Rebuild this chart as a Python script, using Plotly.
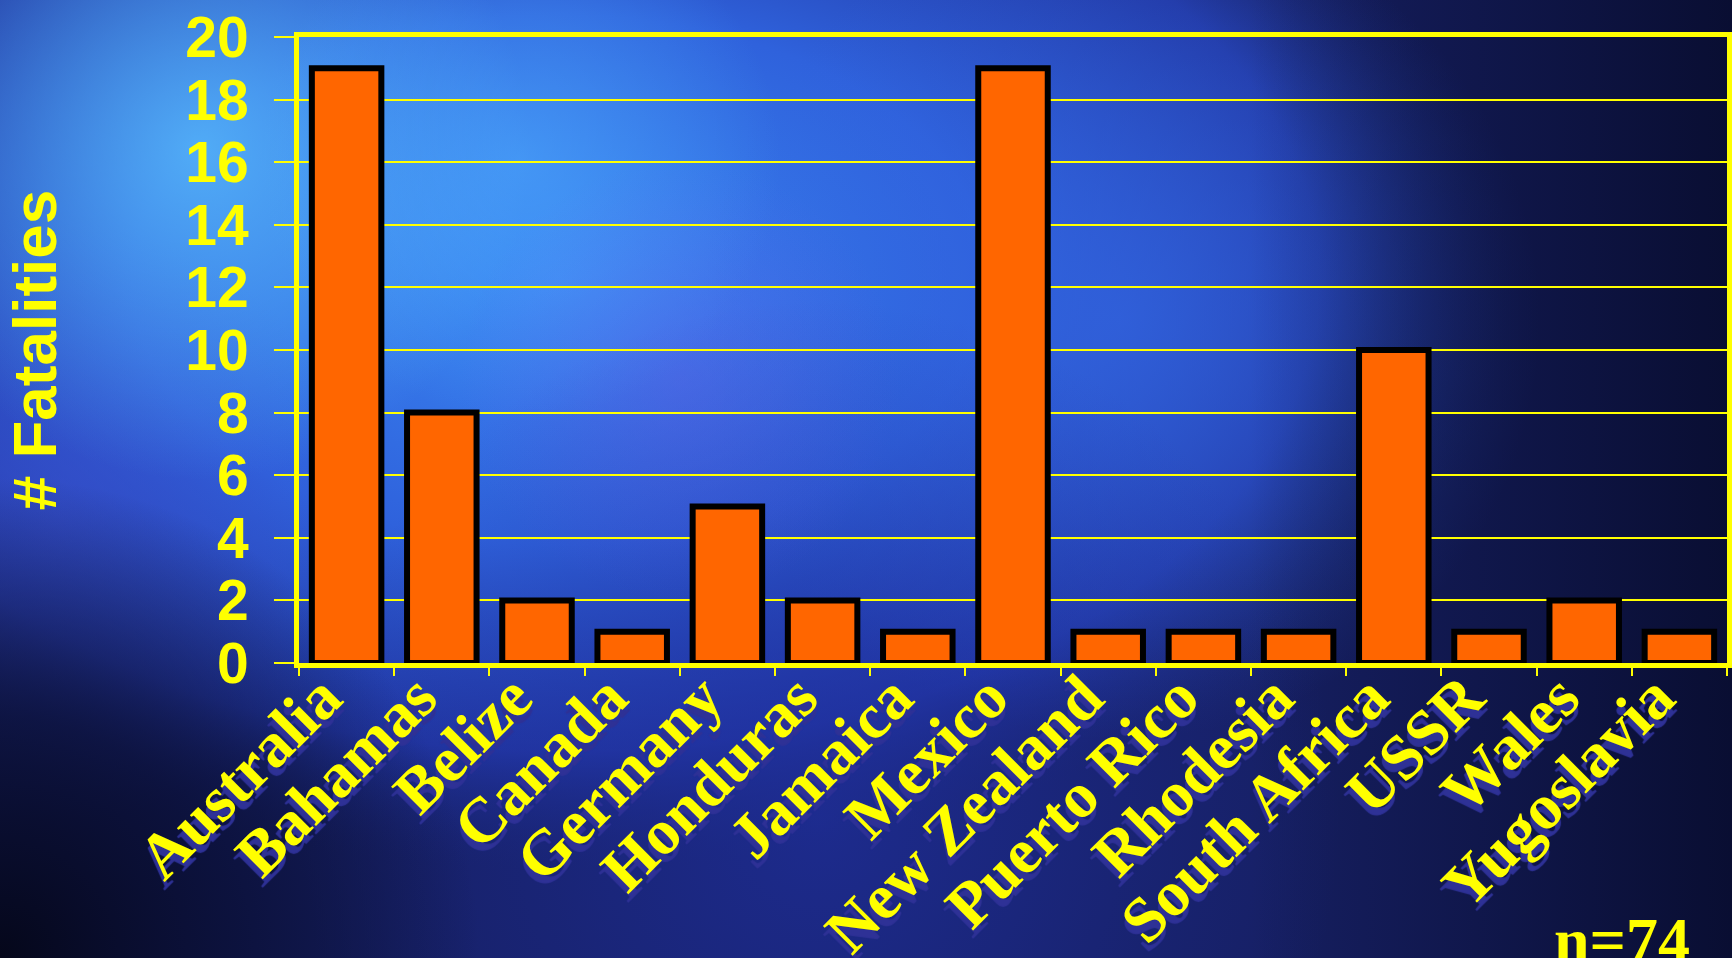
import base64
import plotly.graph_objects as go

# ---- data ----
countries = ["Australia", "Bahamas", "Belize", "Canada", "Germany", "Honduras",
             "Jamaica", "Mexico", "New Zealand", "Puerto Rico", "Rhodesia",
             "South Africa", "USSR", "Wales", "Yugoslavia"]
fatalities = [19, 8, 2, 1, 5, 2, 1, 19, 1, 1, 1, 10, 1, 2, 1]
y_ticks = [0, 2, 4, 6, 8, 10, 12, 14, 16, 18, 20]
y_title = "# Fatalities"
note_text = "n=74"

# ---- layout geometry ----
W, H = 1732, 958
ML, MR, MT, MB = 299, 5, 37, 295
PW = W - ML - MR
PH = H - MT - MB

# ---- background (decorative gradient, as SVG) ----
svg = f"""<svg xmlns='http://www.w3.org/2000/svg' width='{W}' height='{H}' viewBox='0 0 {W} {H}' preserveAspectRatio='none'>
<defs>
<radialGradient id='main' cx='560' cy='280' r='950' gradientUnits='userSpaceOnUse' gradientTransform='translate(560 280) scale(1 0.62) translate(-560 -280)'>
<stop offset='0' stop-color='#3a86f2'/>
<stop offset='0.45' stop-color='#2f62dc'/>
<stop offset='0.8' stop-color='#2238a8' stop-opacity='0.9'/>
<stop offset='1' stop-color='#18236e' stop-opacity='0'/>
</radialGradient>
<radialGradient id='cyan1' cx='200' cy='150' r='330' gradientUnits='userSpaceOnUse'>
<stop offset='0' stop-color='#5cc4ff' stop-opacity='0.75'/>
<stop offset='1' stop-color='#5cc4ff' stop-opacity='0'/>
</radialGradient>
<radialGradient id='cyan2' cx='520' cy='160' r='260' gradientUnits='userSpaceOnUse'>
<stop offset='0' stop-color='#4fb0ff' stop-opacity='0.55'/>
<stop offset='1' stop-color='#4fb0ff' stop-opacity='0'/>
</radialGradient>
<radialGradient id='purp' cx='680' cy='380' r='220' gradientUnits='userSpaceOnUse'>
<stop offset='0' stop-color='#6a5ae6' stop-opacity='0.35'/>
<stop offset='1' stop-color='#6a5ae6' stop-opacity='0'/>
</radialGradient>
<radialGradient id='mid' cx='1120' cy='320' r='420' gradientUnits='userSpaceOnUse'>
<stop offset='0' stop-color='#3264e0' stop-opacity='0.75'/>
<stop offset='1' stop-color='#3264e0' stop-opacity='0'/>
</radialGradient>
<radialGradient id='left' cx='60' cy='520' r='300' gradientUnits='userSpaceOnUse'>
<stop offset='0' stop-color='#3a50d0' stop-opacity='0.6'/>
<stop offset='1' stop-color='#3a50d0' stop-opacity='0'/>
</radialGradient>
<radialGradient id='low' cx='820' cy='820' r='520' gradientUnits='userSpaceOnUse'>
<stop offset='0' stop-color='#2030a0' stop-opacity='0.7'/>
<stop offset='1' stop-color='#2030a0' stop-opacity='0'/>
</radialGradient>
<radialGradient id='bl' cx='0' cy='{H}' r='480' gradientUnits='userSpaceOnUse'>
<stop offset='0' stop-color='#05071a' stop-opacity='1'/>
<stop offset='0.5' stop-color='#0a0f35' stop-opacity='0.8'/>
<stop offset='1' stop-color='#0a0f35' stop-opacity='0'/>
</radialGradient>
<linearGradient id='right' x1='1250' y1='0' x2='{W}' y2='0' gradientUnits='userSpaceOnUse'>
<stop offset='0' stop-color='#070b2a' stop-opacity='0'/>
<stop offset='1' stop-color='#070b2a' stop-opacity='0.85'/>
</linearGradient>
</defs>
<rect width='{W}' height='{H}' fill='#161f62'/>
<rect width='{W}' height='{H}' fill='url(#main)'/>
<rect width='{W}' height='{H}' fill='url(#mid)'/>
<rect width='{W}' height='{H}' fill='url(#low)'/>
<rect width='{W}' height='{H}' fill='url(#left)'/>
<rect width='{W}' height='{H}' fill='url(#cyan1)'/>
<rect width='{W}' height='{H}' fill='url(#cyan2)'/>
<rect width='{W}' height='{H}' fill='url(#purp)'/>
<rect width='{W}' height='{H}' fill='url(#right)'/>
<rect width='{W}' height='{H}' fill='url(#bl)'/>
</svg>"""
bg_uri = "data:image/svg+xml;base64," + base64.b64encode(svg.encode()).decode()

YELLOW = "#ffff00"

fig = go.Figure(
    go.Bar(
        x=countries,
        y=fatalities,
        marker=dict(color="#ff6600", line=dict(color="#000000", width=6)),
        hoverinfo="x+y",
    )
)

fig.update_layout(
    width=W,
    height=H,
    margin=dict(l=ML, r=MR, t=MT, b=MB, autoexpand=False),
    paper_bgcolor="#161f62",
    plot_bgcolor="rgba(0,0,0,0)",
    bargap=0.27,
    showlegend=False,
    images=[dict(
        source=bg_uri,
        xref="paper", yref="paper",
        x=-ML / PW, y=1 + MT / PH,
        sizex=W / PW, sizey=H / PH,
        xanchor="left", yanchor="top",
        sizing="stretch", layer="below",
    )],
    annotations=[dict(
        text=note_text,
        xref="paper", yref="paper",
        x=(1622 - ML) / PW, y=(H - MB - 940) / PH,
        xanchor="center", yanchor="middle",
        showarrow=False,
        font=dict(family="Liberation Serif", size=64, color=YELLOW, weight="bold"),
    )],
)

fig.update_yaxes(
    range=[0, 20],
    tickvals=y_ticks,
    showgrid=True, gridcolor=YELLOW, gridwidth=2,
    showline=True, linecolor=YELLOW, linewidth=5, mirror=True,
    ticks="outside", ticklen=20, tickwidth=2, tickcolor=YELLOW,
    ticklabelstandoff=14,
    tickfont=dict(family="Liberation Sans", size=57, color=YELLOW, weight="bold"),
    zeroline=False,
    title=dict(text=y_title, standoff=118,
               font=dict(family="Liberation Sans", size=62, color=YELLOW, weight="bold")),
    automargin=False,
)

fig.update_xaxes(
    tickangle=-45,
    showline=True, linecolor=YELLOW, linewidth=5, mirror=True,
    ticks="outside", tickson="boundaries", ticklen=8, tickwidth=2, tickcolor=YELLOW,
    ticklabelstandoff=-34,
    ticklabelshift=-24,
    tickfont=dict(family="Liberation Serif", size=64, color=YELLOW, weight="bold",
                  shadow="-6px 6px 1px #2e3196"),
    showgrid=False,
    automargin=False,
)

fig.write_html(
    "out.html",
    config={"displayModeBar": False},
    post_script="document.body.style.margin='0';document.body.style.overflow='hidden';",
)
